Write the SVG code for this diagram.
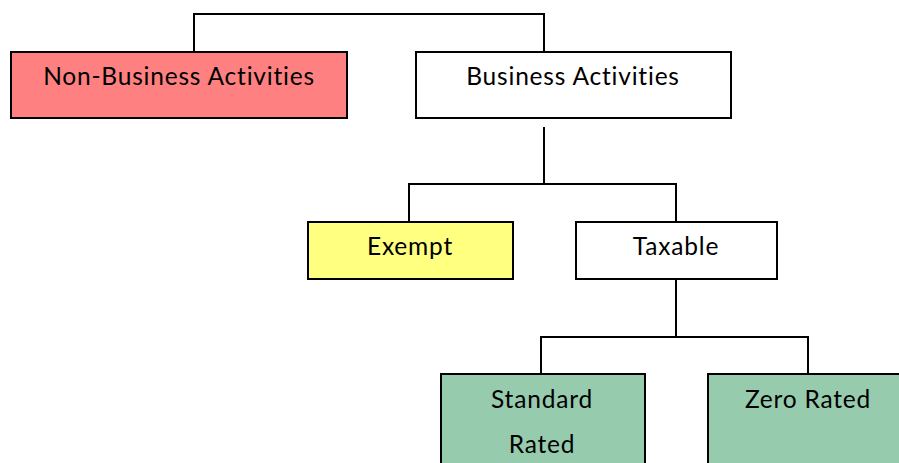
<svg xmlns="http://www.w3.org/2000/svg" width="899" height="463" viewBox="0 0 899 463">
<style>
.box{stroke:#000;stroke-width:2}
.lbl{font-family:"Lato","Liberation Sans",sans-serif;font-size:24.5px;letter-spacing:0.8px;font-variant-ligatures:none;fill:#000;text-anchor:middle}
.conn{fill:none;stroke:#000;stroke-width:2}
</style>
<rect width="899" height="463" fill="#fff"/>
<g id="connectors">
<polyline class="conn" points="194,52 194,14 544,14 544,52"/>
<line class="conn" x1="544" y1="127" x2="544" y2="184"/>
<polyline class="conn" points="409,222 409,184 676,184 676,222"/>
<line class="conn" x1="676" y1="279" x2="676" y2="337"/>
<polyline class="conn" points="541,374 541,337 808,337 808,374"/>
</g>
<g id="non-business">
<rect class="box" x="11" y="52" width="336" height="66" fill="#FF8080"/>
<text class="lbl" x="179" y="85">Non-Business Activities</text>
</g>
<g id="business">
<rect class="box" x="416" y="52" width="315" height="66" fill="#fff"/>
<text class="lbl" x="573" y="85">Business Activities</text>
</g>
<g id="exempt">
<rect class="box" x="308" y="222" width="205" height="57" fill="#FFFF80"/>
<text class="lbl" x="410" y="255">Exempt</text>
</g>
<g id="taxable">
<rect class="box" x="576" y="222" width="201" height="57" fill="#fff"/>
<text class="lbl" x="676" y="255">Taxable</text>
</g>
<g id="standard">
<rect class="box" x="441" y="374" width="204" height="100" fill="#96CBAE"/>
<text class="lbl" x="542" y="408">Standard</text>
<text class="lbl" x="542" y="453">Rated</text>
</g>
<g id="zero">
<rect class="box" x="708" y="374" width="200" height="100" fill="#96CBAE"/>
<text class="lbl" x="808" y="408">Zero Rated</text>
</g>
</svg>
